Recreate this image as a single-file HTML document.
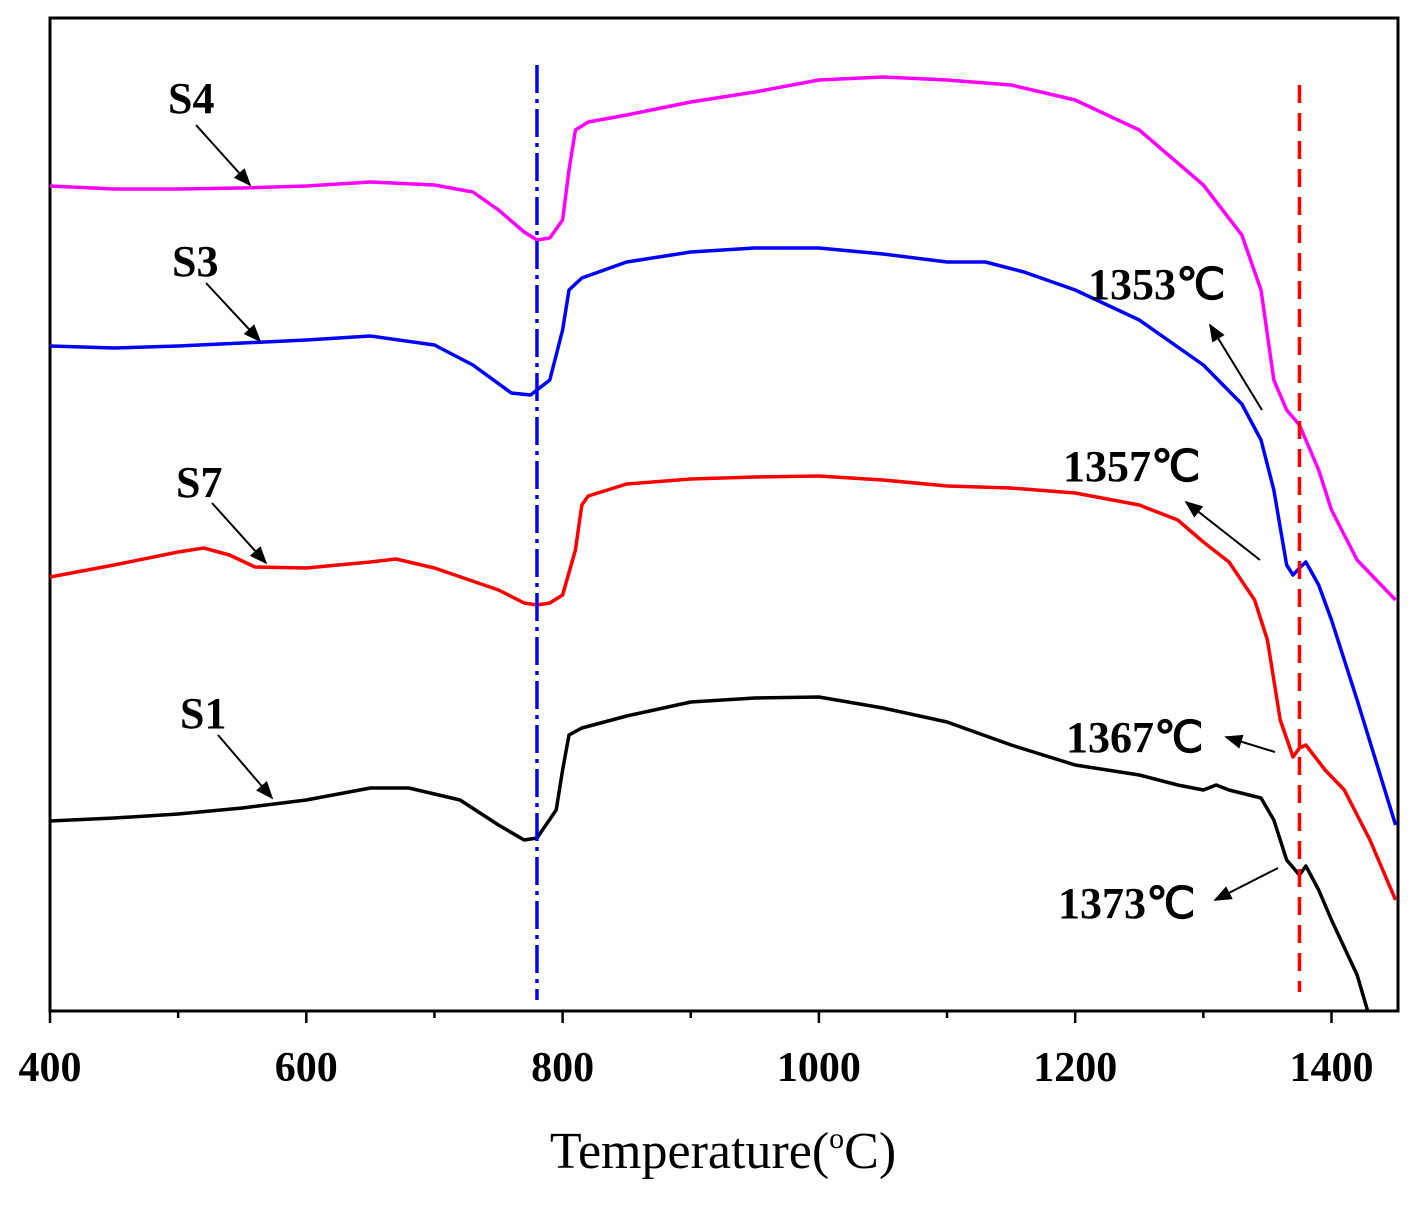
<!DOCTYPE html>
<html><head><meta charset="utf-8"><style>
body{margin:0;background:#fff}
text{font-family:"Liberation Serif",serif}
</style></head><body>
<svg id="chart" width="1423" height="1208" viewBox="0 0 1423 1208" xmlns="http://www.w3.org/2000/svg">
<defs><marker id="ah" viewBox="0 0 10 10" refX="9" refY="5" markerWidth="9" markerHeight="9" orient="auto"><path d="M0,1 L10,5 L0,9 z" fill="#000"/></marker></defs>
<rect x="50" y="18" width="1348" height="993" fill="none" stroke="#000" stroke-width="3"/>
<g id="ticks"></g>
<g id="series"></g>
<text x="723" y="1168" font-size="52" text-anchor="middle">Temperature(<tspan font-size="30" dy="-20">o</tspan><tspan dy="20">C)</tspan></text>
<g font-size="44" font-weight="bold">
<text x="168" y="113">S4</text>
<text x="172" y="276">S3</text>
<text x="176" y="497">S7</text>
<text x="180" y="728">S1</text>
<text x="1088" y="299">1353℃</text>
<text x="1063" y="481">1357℃</text>
<text x="1066" y="752">1367℃</text>
<text x="1058" y="918">1373℃</text>
</g>
<g stroke="#000" stroke-width="2" marker-end="url(#ah)">
<line x1="196" y1="125" x2="250" y2="185"/>
<line x1="206" y1="283" x2="260" y2="341"/>
<line x1="212" y1="503" x2="266" y2="563"/>
<line x1="218" y1="735" x2="272" y2="798"/>
<line x1="1262" y1="410" x2="1210" y2="325"/>
<line x1="1260" y1="560" x2="1186" y2="502"/>
<line x1="1275" y1="752" x2="1226" y2="737"/>
<line x1="1278" y1="868" x2="1215" y2="900"/>
</g>
</svg>
<script>
const xTicks=[400,500,600,700,800,900,1000,1100,1200,1300,1400];
const xLabels=[400,600,800,1000,1200,1400];
const s4T=[400,450,500,550,600,650,700,730,750,770,780,790,800,805,810,820,850,900,950,1000,1050,1100,1150,1200,1250,1300,1330,1345,1355,1365,1375,1390,1400,1420,1450];
const s4V=[825,822,822,823,825,829,826,819,801,779,771,773,791,841,881,889,896,909,919,931,934,931,926,911,881,826,776,721,631,601,586,541,501,451,411];
const s3T=[400,450,500,550,600,650,700,730,760,775,790,800,805,815,850,900,950,1000,1050,1100,1130,1160,1200,1250,1300,1330,1345,1355,1365,1370,1375,1380,1390,1400,1420,1450];
const s3V=[665,663,665,668,671,675,666,646,618,616,631,681,721,733,749,759,763,763,757,749,749,739,721,691,646,607,571,521,446,436,443,449,426,391,311,186];
const s7T=[400,450,500,520,540,560,600,650,670,700,750,770,780,790,800,810,815,820,850,900,950,1000,1050,1100,1150,1200,1250,1280,1300,1320,1340,1350,1360,1370,1375,1380,1395,1410,1430,1450];
const s7V=[434,446,459,463,456,444,443,449,452,443,421,408,406,408,416,461,506,515,527,532,534,535,531,525,523,518,506,491,469,449,411,371,291,254,263,266,241,221,171,111];
const s1T=[400,450,500,550,600,650,680,720,750,770,780,795,800,805,815,850,900,950,1000,1050,1100,1150,1200,1250,1280,1300,1310,1320,1345,1355,1365,1375,1380,1390,1400,1420,1428];
const s1V=[190,193,197,203,211,223,223,211,186,171,173,201,241,276,283,295,309,313,314,303,289,266,246,236,226,221,226,221,213,191,151,136,145,121,91,36,1];
const vlineT=[780,1375];
const xs=t=>50+(t-400)*1.2815;
const ys=v=>1011-v;
const NS="http://www.w3.org/2000/svg";
const tg=document.getElementById('ticks');
xTicks.forEach(t=>{const l=document.createElementNS(NS,'line');


const big=t%200===0;l.setAttribute('x1',xs(t));l.setAttribute('x2',xs(t));l.setAttribute('y1',1011);l.setAttribute('y2',big?1023:1018);l.setAttribute('stroke','#000');l.setAttribute('stroke-width',2.5);tg.appendChild(l);});
xLabels.forEach(t=>{const e=document.createElementNS(NS,'text');


e.setAttribute('x',xs(t));e.setAttribute('y',1081);e.setAttribute('font-size',42);e.setAttribute('font-weight','bold');e.setAttribute('text-anchor','middle');e.textContent=t;tg.appendChild(e);});
const sg=document.getElementById('series');
[[s4T,s4V,'#ff00ff','line-s4'],[s3T,s3V,'#0000ff','line-s3'],[s7T,s7V,'#ff0000','line-s7'],[s1T,s1V,'#000000','line-s1']].forEach(([T,V,c,n])=>{
const p=document.createElementNS(NS,'polyline');


p.setAttribute('points',T.map((t,i)=>xs(t)+','+ys(V[i])).join(' '));p.setAttribute('fill','none');p.setAttribute('stroke',c);p.setAttribute('stroke-width',3.5);p.setAttribute('stroke-linejoin','round');sg.appendChild(p);});
const b=document.createElementNS(NS,'line');


b.setAttribute('x1',xs(vlineT[0]));b.setAttribute('x2',xs(vlineT[0]));b.setAttribute('y1',65);b.setAttribute('y2',1000);b.setAttribute('stroke','#0000ff');b.setAttribute('stroke-width',3.5);b.setAttribute('stroke-dasharray','28 6 4 6');sg.appendChild(b);
const r=document.createElementNS(NS,'line');


r.setAttribute('x1',xs(vlineT[1]));r.setAttribute('x2',xs(vlineT[1]));r.setAttribute('y1',85);r.setAttribute('y2',992);r.setAttribute('stroke','#ff0000');r.setAttribute('stroke-width',3.5);r.setAttribute('stroke-dasharray','18 10');sg.appendChild(r);
</script>
</body></html>
